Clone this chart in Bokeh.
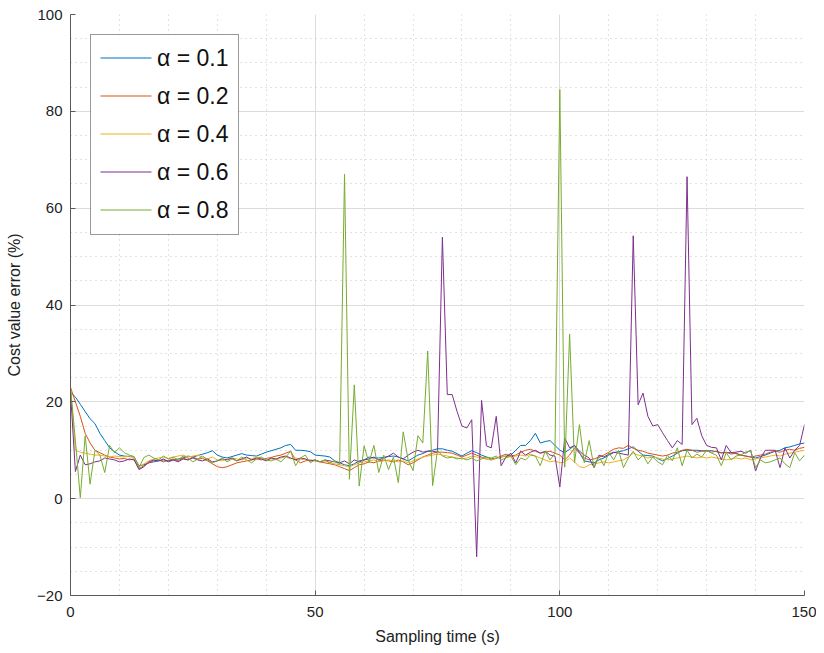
from bokeh.plotting import figure
from bokeh.models import FixedTicker, Range1d, Legend, LegendItem
from bokeh.embed import file_html
from bokeh.resources import INLINE

# ---- data (sampling time 0..150 s, 1 s step) ----
t = list(range(151))

labels = ["α = 0.1", "α = 0.2", "α = 0.4", "α = 0.6", "α = 0.8"]
colors = ["#0072BD", "#D95319", "#EDB120", "#7E2F8E", "#77AC30"]

a01 = [22, 21, 19.5, 18, 16.5, 15.5, 13.5, 12, 10.5, 9.7, 9.0,
       8.8, 8.7, 8.6, 6.8, 7.0, 7.4, 7.6, 7.8, 8.0, 7.8,
       8.0, 8.2, 8.4, 8.8, 8.6, 8.9, 9.2, 9.5, 9.9, 9.0,
       8.6, 8.4, 8.7, 9.0, 9.3, 9.0, 8.9, 8.8, 9.2, 9.6,
       9.9, 10.2, 10.5, 11.0, 11.2, 10.0, 10.0, 9.9, 9.7, 9.0,
       8.9, 8.8, 8.6, 7.8, 7.4, 7.0, 6.8, 7.2, 7.8, 8.0,
       8.6, 8.4, 8.4, 8.5, 8.7, 8.8, 8.6, 8.2, 7.8, 8.4,
       9.0, 9.3, 9.8, 10.0, 10.3, 10.3, 10.0, 9.8, 9.3, 8.8,
       9.4, 9.9, 9.5, 9.0, 8.6, 8.2, 8.4, 8.6, 8.8, 9.0,
       10.0, 11.0, 11.0, 12.0, 13.5, 11.5, 11.8, 12.0, 11.0, 10.0,
       9.5, 10.2, 11.0, 9.5, 7.8, 7.6, 7.4, 8.0, 8.4, 9.0,
       9.5, 9.7, 9.9, 10.3, 10.7, 9.8, 9.0, 8.9, 8.8, 8.3,
       7.8, 8.3, 8.8, 9.4, 9.9, 10.0, 10.0, 10.0, 9.9, 9.9,
       9.9, 9.7, 9.5, 9.5, 9.5, 9.3, 9.0, 8.8, 8.6, 8.4,
       8.7, 9.0, 9.4, 9.8, 10.0, 10.5, 10.7, 11.0, 11.3, 11.5]

a02 = [23, 20, 17, 13.5, 11.5, 10, 9.5, 9.0, 8.6, 8.4, 8.2,
       8.3, 8.0, 8.2, 6.2, 6.8, 7.4, 7.8, 8.0, 7.6, 7.9,
       8.2, 7.8, 8.4, 8.0, 8.6, 8.2, 8.3, 7.8, 7.2, 6.6,
       6.4, 6.6, 7.0, 7.4, 7.6, 7.8, 8.0, 8.2, 8.0, 8.3,
       8.5, 8.8, 9.0, 9.4, 9.8, 8.0, 7.4, 7.8, 8.0, 7.8,
       7.6, 7.4, 7.2, 7.0, 6.6, 6.2, 5.8, 6.4, 7.0, 7.2,
       7.6, 7.4, 7.8, 8.0, 7.8, 7.6, 8.0, 7.6, 7.0, 7.4,
       8.0, 8.6, 9.0, 9.4, 9.6, 9.6, 9.5, 9.4, 9.0, 8.6,
       9.0, 9.4, 9.0, 8.6, 8.2, 8.0, 8.3, 8.8, 9.2, 8.8,
       9.0, 9.6, 10.0, 10.2, 9.8, 9.4, 9.6, 9.8, 9.4, 9.0,
       8.0, 9.0, 10.5, 9.4, 8.4, 8.0, 8.2, 8.6, 9.0, 9.6,
       10.2, 10.5, 10.4, 11.0, 10.4, 10.0, 9.8, 9.4, 9.2, 9.0,
       8.8, 9.0, 9.4, 9.6, 10.0, 10.2, 10.0, 9.6, 9.8, 9.8,
       9.6, 9.8, 9.4, 9.6, 9.2, 9.4, 9.0, 8.8, 8.6, 8.8,
       9.0, 9.2, 9.6, 9.8, 9.6, 10.0, 10.2, 10.0, 10.4, 10.6]

a04 = [23, 10, 9.6, 9.4, 9.2, 9.0, 9.0, 8.8, 8.6, 8.8, 8.7,
       8.6, 8.8, 8.5, 6.6, 7.2, 7.8, 8.2, 8.4, 8.6, 8.3,
       8.6, 8.8, 9.0, 8.6, 8.8, 9.0, 8.5, 8.2, 8.6, 8.0,
       7.8, 8.2, 8.4, 8.2, 8.0, 8.4, 8.2, 8.6, 8.4, 8.0,
       8.2, 8.0, 8.4, 8.6, 8.2, 8.4, 8.0, 8.2, 7.8, 8.0,
       7.6, 7.8, 7.4, 7.2, 7.0, 6.8, 6.6, 7.0, 7.4, 7.6,
       7.8, 8.0, 7.6, 7.8, 8.0, 7.8, 7.6, 7.8, 7.4, 7.8,
       8.2, 8.6, 8.8, 9.0, 9.2, 9.0, 8.8, 8.6, 8.4, 8.2,
       8.4, 8.8, 8.6, 8.4, 8.2, 8.0, 8.4, 8.6, 8.8, 8.6,
       8.8, 9.0, 8.8, 9.2, 8.8, 8.4, 8.0, 7.6, 7.8, 7.4,
       7.6, 8.4, 7.6, 6.6, 6.4, 7.0, 7.2, 7.4, 7.6, 7.4,
       7.6, 7.8, 8.0, 8.6, 9.4, 9.0, 8.8, 8.4, 8.6, 8.4,
       8.2, 8.0, 8.2, 8.4, 8.6, 8.8, 8.6, 8.4, 8.6, 8.4,
       8.6, 8.4, 8.2, 8.0, 8.2, 8.4, 8.2, 8.4, 8.0, 8.2,
       8.4, 8.6, 8.8, 9.0, 8.8, 9.2, 9.4, 9.6, 9.8, 10.0]

a06 = [22, 5.6, 9.0, 7.0, 7.2, 7.6, 7.8, 8.4, 8.2, 8.0, 7.6,
       7.8, 8.2, 8.0, 6.0, 6.6, 7.6, 8.0, 7.8, 8.2, 7.6,
       8.0, 7.6, 8.2, 8.0, 8.4, 8.0, 7.8, 8.2, 7.6, 7.8,
       8.2, 8.0, 8.4, 7.8, 8.2, 8.6, 8.0, 8.4, 8.2, 7.8,
       8.4, 8.2, 8.6, 8.8, 8.4, 8.0, 8.4, 8.2, 7.8, 8.0,
       7.6, 8.0, 7.8, 7.6, 7.4, 7.8, 7.2, 8.0, 7.6, 8.0,
       8.2, 8.6, 8.0, 8.4, 8.8, 9.4, 8.6, 8.2, 9.0, 9.6,
       10.0, 9.6, 9.8, 9.8, 9.6, 54.0, 21.5, 21.5, 18.0, 15.0,
       14.6, 16.3, -12.0, 20.3, 10.9, 10.5, 17.0, 6.8, 8.6, 9.4,
       7.4, 9.8, 9.0, 9.6, 10.0, 9.4, 9.8, 9.0, 8.8, 2.4,
       12.5, 10.5, 11.0, 9.8, 9.0, 8.4, 6.4, 9.0, 8.6, 9.2,
       9.6, 9.4, 9.2, 9.0, 54.3, 19.4, 21.8, 17.0, 15.0, 15.3,
       13.6, 12.0, 10.5, 12.0, 11.2, 66.5, 15.3, 16.6, 13.0, 11.0,
       10.6, 10.5, 8.0, 11.0, 9.5, 9.6, 9.8, 9.4, 10.0, 5.7,
       8.4, 10.0, 10.0, 10.0, 6.4, 10.5, 8.4, 10.0, 11.0, 15.3]

a08 = [23, 12, 0.2, 13, 3, 10, 9, 5.4, 11, 9.5, 10.5,
       9.5, 9.0, 8.7, 6.4, 8.5, 9.0, 8.4, 8.0, 8.8, 8.2,
       8.6, 8.0, 8.8, 8.4, 7.6, 8.2, 8.8, 8.0, 7.4, 7.8,
       8.4, 7.6, 8.2, 7.8, 8.6, 8.0, 7.4, 8.2, 8.6, 8.0,
       7.8, 8.2, 7.6, 8.6, 9.8, 6.8, 8.4, 9.0, 7.4, 8.0,
       7.6, 8.0, 7.4, 7.8, 7.0, 67.0, 4.0, 23.5, 2.6, 10.9,
       7.4, 11.0, 5.4, 9.0, 6.0, 8.6, 3.3, 13.8, 8.0, 5.8,
       13.0, 11.5, 30.5, 2.7, 10.0, 8.8, 8.4, 8.6, 8.2, 8.4,
       8.0, 8.4, 7.8, 8.2, 8.6, 8.4, 8.8, 8.0, 8.4, 8.8,
       7.0, 8.4, 8.0, 9.0, 8.8, 6.8, 9.8, 8.0, 9.4, 84.5,
       6.5, 34.0, 7.4, 15.3, 7.4, 12.0, 6.4, 8.8, 6.8, 9.5,
       8.0, 10.0, 6.4, 8.4, 9.8, 8.0, 9.0, 7.2, 8.6, 7.6,
       7.0, 9.0, 7.8, 10.5, 6.8, 10.0, 8.4, 9.2, 8.6, 10.0,
       9.4, 9.0, 6.8, 9.5, 8.0, 8.8, 9.0, 9.6, 9.9, 6.4,
       8.0, 7.4, 7.6, 8.0, 8.4, 7.2, 6.4, 9.5, 7.8, 9.0]

series = [a01, a02, a04, a06, a08]

x_ticks = [0, 50, 100, 150]
x_minor = [10, 20, 30, 40, 60, 70, 80, 90, 110, 120, 130, 140]
y_ticks = [-20, 0, 20, 40, 60, 80, 100]
y_minor = [-15, -10, -5, 5, 10, 15, 25, 30, 35, 45, 50, 55, 65, 70, 75, 85, 90, 95]

FONT = "Liberation Sans"
X0, X1, Y0, Y1 = 0, 150, -20, 100
FRAME_W, FRAME_H = 734, 581

# legend layout (screen pixels, measured from the frame's top-left corner)
LG_MARGIN = 20
LG_PAD = 10
ROW_H = 27
ROW_GAP = 11
KEY_W = 51
LG_W = 148
LG_H = 2 * LG_PAD + 5 * ROW_H + 4 * ROW_GAP


def px_to_x(px):
    return X0 + px / FRAME_W * (X1 - X0)


def py_to_y(py):
    return Y1 - py / FRAME_H * (Y1 - Y0)


p = figure(frame_width=FRAME_W, frame_height=FRAME_H,
           x_range=Range1d(X0, X1), y_range=Range1d(Y0, Y1),
           output_backend="svg", toolbar_location=None,
           min_border_left=70, min_border_top=14, min_border_right=12,
           min_border_bottom=50)
p.outline_line_color = None
p.background_fill_color = "white"
p.border_fill_color = "white"

# white backing of the legend box (covers the grid under the legend)
p.quad(left=[px_to_x(LG_MARGIN + 0.5)], right=[px_to_x(LG_MARGIN + LG_W - 0.5)],
       top=[py_to_y(LG_MARGIN + 0.5)], bottom=[py_to_y(LG_MARGIN + LG_H - 0.5)],
       fill_color="white", line_color=None)

items = []
for i, (ys, lab, col) in enumerate(zip(series, labels, colors)):
    p.line(t, ys, line_color=col, line_width=1.0)
    # legend key line
    cy = LG_MARGIN + LG_PAD + i * (ROW_H + ROW_GAP) + ROW_H / 2
    kx = LG_MARGIN + LG_PAD
    p.segment(x0=[px_to_x(kx)], x1=[px_to_x(kx + KEY_W)],
              y0=[py_to_y(cy)], y1=[py_to_y(cy)],
              line_color=col, line_width=1.2)
    # placeholder renderer for the legend entry (draws nothing itself)
    ph = p.segment(x0=[], y0=[], x1=[], y1=[], line_color=col, line_alpha=0)
    items.append(LegendItem(label=lab, renderers=[ph]))

p.xaxis.ticker = FixedTicker(ticks=x_ticks, minor_ticks=x_minor)
p.yaxis.ticker = FixedTicker(ticks=y_ticks, minor_ticks=y_minor)

for ax in (p.xaxis, p.yaxis):
    ax.axis_line_color = "#5a5a5a"
    ax.axis_line_width = 1
    ax.major_tick_in = 5
    ax.major_tick_out = 0
    ax.major_tick_line_color = "#5a5a5a"
    ax.minor_tick_in = 0
    ax.minor_tick_out = 0
    ax.major_label_text_font = FONT
    ax.major_label_text_font_size = "15px"
    ax.major_label_text_color = "#222222"
    ax.axis_label_text_font = FONT
    ax.axis_label_text_font_size = "16px"
    ax.axis_label_text_font_style = "normal"
    ax.axis_label_text_color = "#222222"

p.xaxis.axis_label = "Sampling time (s)"
p.yaxis.axis_label = "Cost value error (%)"
p.xaxis.major_label_standoff = 11
p.yaxis.major_label_standoff = 8
p.xaxis.axis_label_standoff = 8
p.yaxis.axis_label_standoff = 11

for g in (p.xgrid, p.ygrid):
    g.grid_line_color = "#dcdcdc"
    g.grid_line_width = 1
    g.minor_grid_line_color = "#c4c4c4"
    g.minor_grid_line_dash = "1 4"
    g.minor_grid_line_width = 1

lg = Legend(items=items, location="top_left")
lg.margin = LG_MARGIN
lg.padding = LG_PAD
lg.spacing = ROW_GAP
lg.glyph_width = KEY_W
lg.glyph_height = ROW_H
lg.label_height = ROW_H
lg.label_standoff = 5
lg.label_text_font = FONT
lg.label_text_font_size = "23px"
lg.label_text_color = "#111111"
lg.border_line_color = "#333333"
lg.border_line_width = 1
lg.background_fill_alpha = 0.0
p.add_layout(lg, "center")

with open("out.html", "w") as f:
    f.write(file_html(p, INLINE))
